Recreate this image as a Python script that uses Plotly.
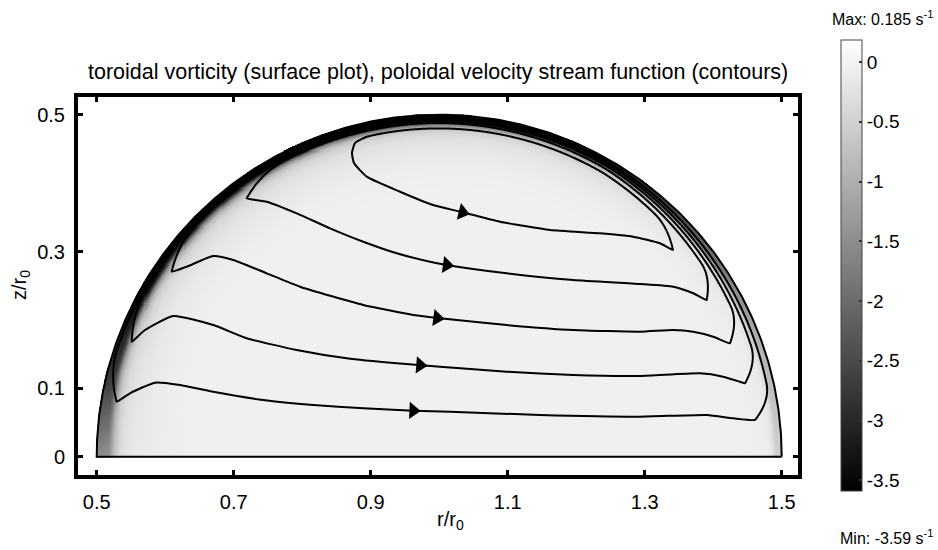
import numpy as np
import plotly.graph_objects as go

# ---------------- data ----------------
X_TICKS = [0.5, 0.7, 0.9, 1.1, 1.3, 1.5]
Y_TICKS = [0, 0.1, 0.3, 0.5]
CB_TICKS = [0, -0.5, -1, -1.5, -2, -2.5, -3, -3.5]
CB_TEXT = ["0", "-0.5", "-1", "-1.5", "-2", "-2.5", "-3", "-3.5"]
VORT_MIN = -3.59
VORT_MAX = 0.185
INTERIOR_VORT = -0.035

# wall vorticity along the arc (angle measured from the +r axis, degrees)
WALL_ANGLE = [0, 20, 40, 60, 90, 120, 150, 165, 180]
WALL_VORT = [-0.5, -1.0, -2.2, -3.4, -3.59, -3.59, -3.59, -2.9, -1.5]
LAYER_SCALE = [1.0, 0.9, 0.9, 1.0, 1.15, 1.3, 1.3, 1.5, 2.0]
# boundary-layer decay of vorticity with distance from the wall
PROFILE_D = [0, 0.004, 0.008, 0.010, 0.013, 0.017, 0.022, 0.03, 0.045, 0.07, 0.1]
PROFILE_G = [1.0, 0.99, 0.95, 0.8, 0.45, 0.22, 0.12, 0.07, 0.035, 0.01, 0.0]

# stream-function contours: interior branch (left end -> right end)
LOOP1_R = [0.8942, 0.8771, 0.8727, 0.8756, 0.8942, 0.9428, 0.9910, 1.0304, 1.0888, 1.1618, 1.2347, 1.2829, 1.3223, 1.3413]
LOOP1_Z = [0.4678, 0.4586, 0.4440, 0.4294, 0.4094, 0.3874, 0.3680, 0.3582, 0.3436, 0.3314, 0.3266, 0.3216, 0.3120, 0.3022]
LOOP2_R = [0.7190, 0.7482, 0.7920, 0.8406, 0.8892, 0.9380, 0.9866, 1.0109, 1.0985, 1.1958, 1.2931, 1.3418, 1.3709, 1.3905]
LOOP2_Z = [0.3778, 0.3728, 0.3558, 0.3339, 0.3143, 0.2974, 0.2851, 0.2803, 0.2681, 0.2583, 0.2525, 0.2485, 0.2389, 0.2291]
LOOP3_R = [0.6095, 0.6314, 0.6702, 0.6994, 0.7482, 0.7968, 0.8892, 0.9622, 1.0012, 1.0985, 1.1958, 1.2931, 1.3418, 1.3709, 1.4001, 1.4245]
LOOP3_Z = [0.2705, 0.2778, 0.2934, 0.2876, 0.2681, 0.2485, 0.2218, 0.2072, 0.2023, 0.1925, 0.1852, 0.1827, 0.1852, 0.1827, 0.1754, 0.1658]
LOOP4_R = [0.5511, 0.5705, 0.6118, 0.6702, 0.7190, 0.7920, 0.8650, 0.9380, 1.0012, 1.0985, 1.1958, 1.2931, 1.3807, 1.4147, 1.4391, 1.4464]
LOOP4_Z = [0.1681, 0.1852, 0.2057, 0.1925, 0.1731, 0.1560, 0.1439, 0.1365, 0.1316, 0.1243, 0.1194, 0.1180, 0.1219, 0.1170, 0.1096, 0.1073]
LOOP5_R = [0.5292, 0.5486, 0.5851, 0.6216, 0.6702, 0.7432, 0.8162, 0.8892, 0.9622, 1.0158, 1.1472, 1.2931, 1.3905, 1.4293, 1.4610]
LOOP5_Z = [0.0804, 0.0927, 0.1082, 0.1048, 0.0950, 0.0829, 0.0756, 0.0708, 0.0673, 0.0658, 0.0610, 0.0585, 0.0610, 0.0561, 0.0537]

# wall-side branch of every contour: distance from the wall at these angles
OFFSET_ANGLE = [0, 30, 60, 90, 120, 150, 180]
LOOP1_OFF = [0.045, 0.033, 0.021, 0.020, 0.020, 0.022, 0.026]
LOOP2_OFF = [0.038, 0.027, 0.014, 0.012, 0.012, 0.014, 0.020]
LOOP3_OFF = [0.030, 0.020, 0.010, 0.009, 0.009, 0.010, 0.015]
LOOP4_OFF = [0.022, 0.014, 0.007, 0.006, 0.006, 0.007, 0.010]
LOOP5_OFF = [0.012, 0.008, 0.004, 0.003, 0.003, 0.004, 0.005]
# angular width (degrees) over which each contour leaves the wall at its two ends
TURN_RIGHT = [7, 6, 6, 6, 6]
TURN_LEFT = [4, 9, 9, 9, 9]

ARROW_R = [1.034, 1.011, 0.997, 0.972, 0.962]

# ---------------- figure ----------------
W, H = 938, 550
L, R, T, B = 78, 140, 97, 75
PW, PH = W - L - R, H - T - B


def px_to_paper(px, py):
    return (px - L) / PW, (H - B - py) / PH


FONT = "Liberation Sans, Arial, sans-serif"

fig = go.Figure()

# vorticity surface on the half-disc
rg = np.arange(0.5, 1.5 + 1e-9, 0.0015)
zg = np.arange(0.0, 0.5 + 1e-9, 0.0015)
RR, ZZ = np.meshgrid(rg, zg)
rho = np.hypot(RR - 1.0, ZZ)
theta = np.degrees(np.arctan2(ZZ, RR - 1.0))
dist = 0.5 - rho
A = np.interp(theta, WALL_ANGLE, WALL_VORT)
wscale = np.interp(theta, WALL_ANGLE, LAYER_SCALE)
g = np.interp(np.clip(dist, 0, None) / wscale, PROFILE_D, PROFILE_G)
field = INTERIOR_VORT + (A - INTERIOR_VORT) * g
field[rho > 0.5 + 0.0008] = np.nan
field = field.astype(np.float32)

fig.add_trace(go.Heatmap(
    x=rg, y=zg, z=field,
    zmin=VORT_MIN, zmax=VORT_MAX,
    colorscale=[[0, "rgb(0,0,0)"], [1, "rgb(255,255,255)"]],
    hoverinfo="skip",
    colorbar=dict(
        x=px_to_paper(841, 0)[0], xanchor="left",
        y=px_to_paper(0, 40)[1], yanchor="top",
        len=451, lenmode="pixels",
        thickness=21, thicknessmode="pixels",
        xpad=0, ypad=0,
        outlinewidth=1, outlinecolor="#444",
        tickmode="array", tickvals=CB_TICKS, ticktext=CB_TEXT,
        ticks="inside", ticklen=3, tickcolor="#333", tickwidth=2,
        tickfont=dict(family=FONT, size=19, color="black"),
    ),
))

# domain boundary
th = np.linspace(0, np.pi, 400)
bx = np.concatenate([1 + 0.5 * np.cos(th), [1.5]])
bz = np.concatenate([0.5 * np.sin(th), [0.0]])
fig.add_trace(go.Scatter(x=bx, y=bz, mode="lines",
                         line=dict(color="black", width=2), hoverinfo="skip"))

loops = [(LOOP1_R, LOOP1_Z, LOOP1_OFF), (LOOP2_R, LOOP2_Z, LOOP2_OFF),
         (LOOP3_R, LOOP3_Z, LOOP3_OFF), (LOOP4_R, LOOP4_Z, LOOP4_OFF),
         (LOOP5_R, LOOP5_Z, LOOP5_OFF)]

arrow_x, arrow_y, arrow_ang = [], [], []
for k, ((lr, lz, off), ar) in enumerate(zip(loops, ARROW_R)):
    lr = np.array(lr)
    lz = np.array(lz)
    thR = np.degrees(np.arctan2(lz[-1], lr[-1] - 1))
    thL = np.degrees(np.arctan2(lz[0], lr[0] - 1))
    dR = 0.5 - np.hypot(lr[-1] - 1, lz[-1])
    dL = 0.5 - np.hypot(lr[0] - 1, lz[0])
    tt = np.linspace(thR, thL, 300)[1:-1]
    d = np.interp(tt, OFFSET_ANGLE, off)
    wr = np.clip(1 - (tt - thR) / TURN_RIGHT[k], 0, 1) ** 2
    wl = np.clip(1 - (thL - tt) / TURN_LEFT[k], 0, 1) ** 2
    d = d + (dR - d) * wr + (dL - d) * wl
    rad = 0.5 - d
    ax_ = 1 + rad * np.cos(np.radians(tt))
    az_ = rad * np.sin(np.radians(tt))
    xs = np.concatenate([lr, ax_, lr[:1]])
    ys = np.concatenate([lz, az_, lz[:1]])
    fig.add_trace(go.Scatter(x=xs, y=ys, mode="lines",
                             line=dict(color="black", width=2, shape="spline", smoothing=0.5),
                             hoverinfo="skip"))
    i0 = int(np.argmin(lr))
    for i in range(i0, len(lr) - 1):
        if lr[i] <= ar <= lr[i + 1]:
            f = (ar - lr[i]) / (lr[i + 1] - lr[i])
            zz = lz[i] + f * (lz[i + 1] - lz[i])
            ang = -np.degrees(np.arctan2(lz[i + 1] - lz[i], lr[i + 1] - lr[i]))
            arrow_x.append(ar)
            arrow_y.append(zz)
            arrow_ang.append(ang)
            break

fig.add_trace(go.Scatter(x=arrow_x, y=arrow_y, mode="markers",
                         marker=dict(symbol="triangle-right", size=15, color="black",
                                     angle=arrow_ang, line=dict(width=0)),
                         hoverinfo="skip"))

axis_common = dict(showline=True, linewidth=4, linecolor="black", mirror="ticks",
                   ticks="inside", ticklen=5, tickwidth=3, tickcolor="black",
                   showgrid=False, zeroline=False,
                   tickfont=dict(family=FONT, size=20, color="black"))

fig.update_xaxes(range=[0.4727, 1.5238], tickvals=X_TICKS,
                 ticktext=["0.5", "0.7", "0.9", "1.1", "1.3", "1.5"],
                 ticklabelstandoff=6, **axis_common)
fig.update_yaxes(range=[-0.0268, 0.5259], tickvals=Y_TICKS,
                 ticktext=["0", "0.1", "0.3", "0.5"],
                 ticklabelstandoff=5, **axis_common)

font = dict(family=FONT, color="black")
annos = []
tx, ty = px_to_paper(438, 72)
annos.append(dict(x=tx, y=ty, text="toroidal vorticity (surface plot), poloidal velocity stream function (contours)",
                  font=dict(size=21.5, **font), xanchor="center", yanchor="middle"))
mx, my = px_to_paper(936, 18)
annos.append(dict(x=mx, y=my, text="Max: 0.185 s<sup>-1</sup>", font=dict(size=16, **font),
                  xanchor="right", yanchor="middle"))
nx, ny = px_to_paper(936, 537)
annos.append(dict(x=nx, y=ny, text="Min: -3.59 s<sup>-1</sup>", font=dict(size=16, **font),
                  xanchor="right", yanchor="middle"))
zx, zy = px_to_paper(20, 285)
annos.append(dict(x=zx, y=zy, text="z/r<sub>0</sub>", textangle=-90, font=dict(size=20, **font),
                  xanchor="center", yanchor="middle"))
rx, ry = px_to_paper(450, 520)
annos.append(dict(x=rx, y=ry, text="r/r<sub>0</sub>", font=dict(size=20, **font),
                  xanchor="center", yanchor="middle"))
for a in annos:
    a.update(xref="paper", yref="paper", showarrow=False)

fig.update_layout(
    width=W, height=H,
    margin=dict(l=L, r=R, t=T, b=B),
    paper_bgcolor="white", plot_bgcolor="white",
    showlegend=False,
    annotations=annos,
)

fig.write_html("out.html")
